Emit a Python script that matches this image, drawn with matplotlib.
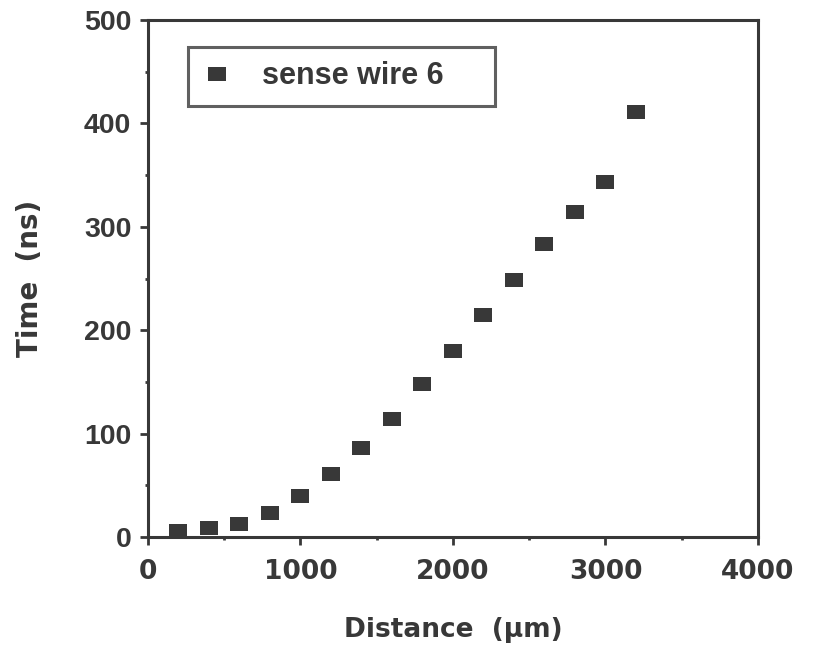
import matplotlib
matplotlib.use("Agg")
import matplotlib.pyplot as plt
from matplotlib.ticker import MultipleLocator

# drift time vs distance, sense wire 6
distance = [200, 400, 600, 800, 1000, 1200, 1400, 1600, 1800,
            2000, 2200, 2400, 2600, 2800, 3000, 3200]
time_ns = [6, 9, 13, 23.5, 40, 60.5, 86.5, 114, 147.5,
           180, 214.5, 249, 283.5, 314, 343, 411.5]

x_ticks = [0, 1000, 2000, 3000, 4000]
y_ticks = [0, 100, 200, 300, 400, 500]
series_label = "sense wire 6"

ink = "#383838"

fig = plt.figure(figsize=(8.18, 6.47), dpi=100)
ax = fig.add_axes([0.1809, 0.1700, 0.7457, 0.7991])

# slightly wide square, like the original plot symbols
rect = [(-1, -0.8), (1, -0.8), (1, 0.8), (-1, 0.8), (-1, -0.8)]
ax.plot(distance, time_ns, linestyle="none", marker=rect, markersize=12.5,
        color=ink, markeredgewidth=0, label=series_label, clip_on=False)

ax.set_xlim(0, 4000)
ax.set_ylim(0, 500)
ax.set_xticks(x_ticks)
ax.set_yticks(y_ticks)
ax.xaxis.set_minor_locator(MultipleLocator(500))
ax.yaxis.set_minor_locator(MultipleLocator(50))

ax.set_xticklabels([str(v) for v in x_ticks], family="DejaVu Sans",
                   fontweight="bold", fontsize=19, color=ink)
ax.set_yticklabels([str(v) for v in y_ticks], family="Liberation Sans",
                   fontweight="bold", fontsize=20.5, color=ink)

for s in ax.spines.values():
    s.set_linewidth(2.2)
    s.set_color(ink)

ax.tick_params(which="major", direction="out", length=6, width=2, color=ink)
ax.tick_params(which="minor", direction="out", length=2.5, width=2, color=ink)
ax.tick_params(axis="x", pad=10)
ax.tick_params(axis="y", pad=6)

ax.set_xlabel("Distance  (\u00b5m)", family="DejaVu Sans", fontweight="bold",
              fontsize=19, color=ink, labelpad=23)
ax.set_ylabel("Time  (ns)", family="DejaVu Sans", fontweight="bold",
              fontsize=20, color=ink, labelpad=29)

leg = ax.legend(loc="lower left", bbox_to_anchor=(0.0656, 0.834, 0.503, 0.112),
                mode="expand", frameon=True, fancybox=False, borderpad=0.47,
                handlelength=0.95, handletextpad=1.0, borderaxespad=0,
                prop={"family": "Liberation Sans", "weight": "bold", "size": 22})
leg.get_frame().set_edgecolor(ink)
leg.get_frame().set_linewidth(2.2)
for t in leg.get_texts():
    t.set_color(ink)

fig.savefig("out.png", dpi=100)
